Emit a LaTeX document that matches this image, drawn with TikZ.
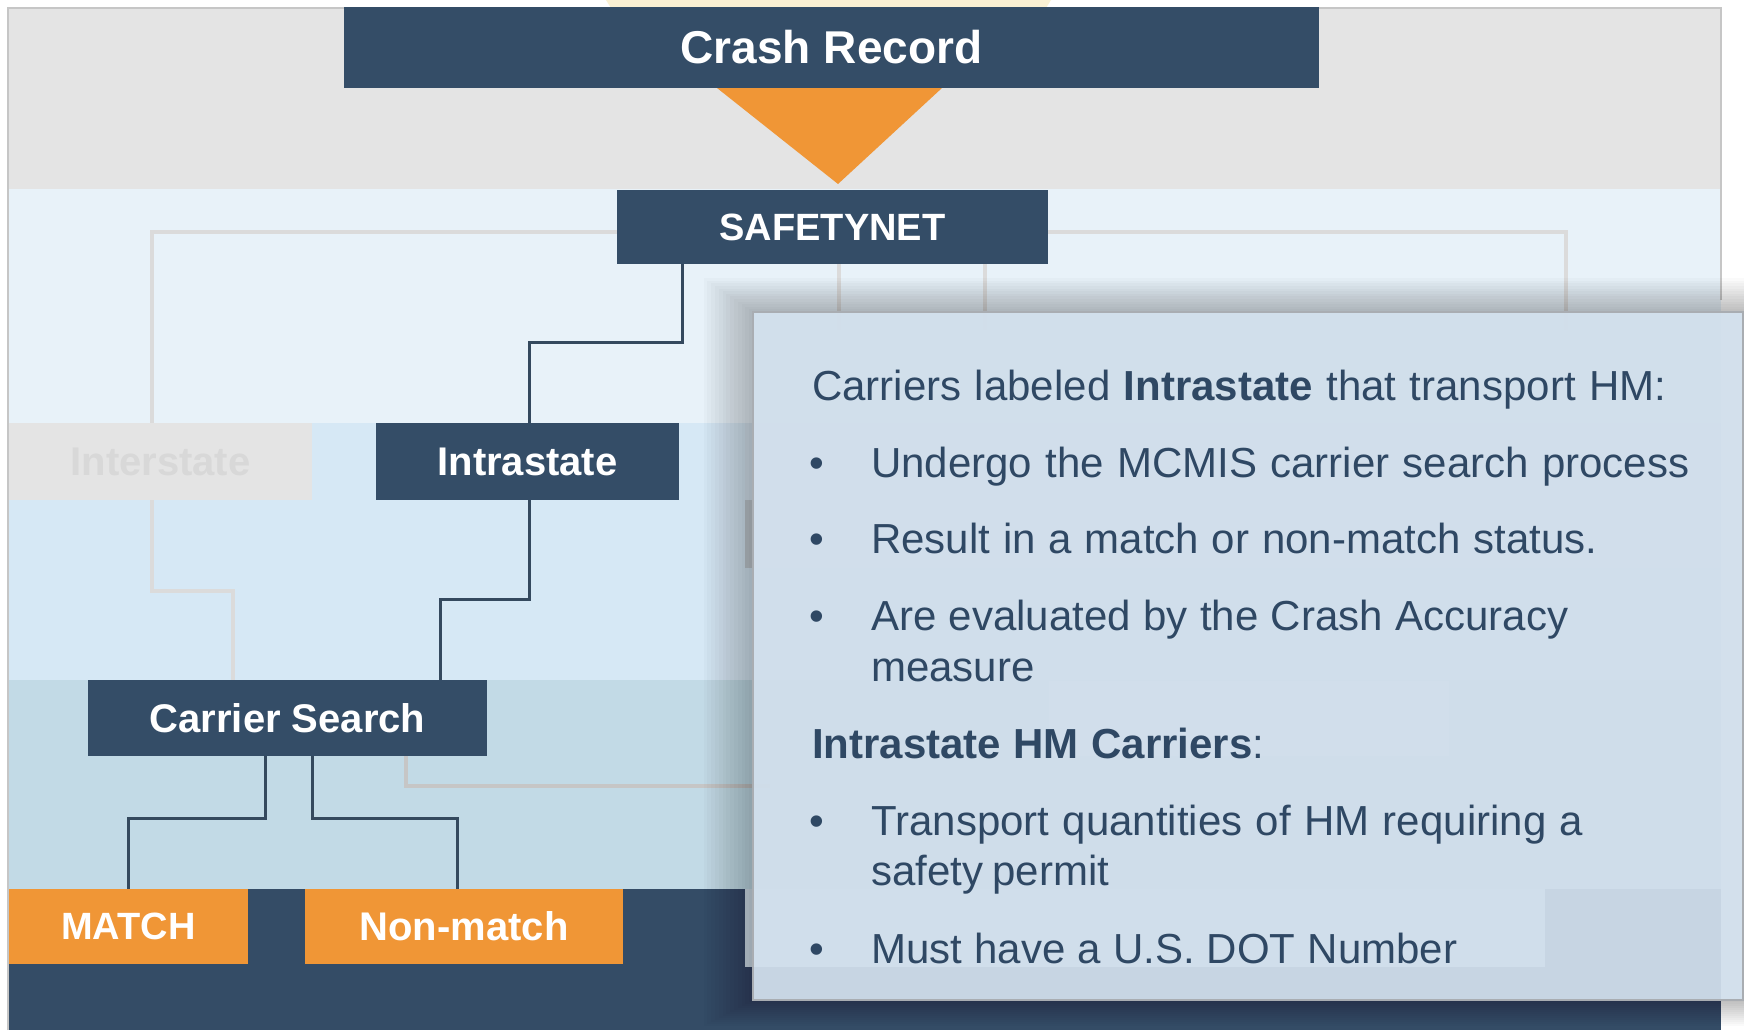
\documentclass[tikz,border=0pt]{standalone}
\usepackage{fontspec}
\setmainfont{Liberation Sans}
\definecolor{navy}{HTML}{344D67}
\definecolor{navyline}{HTML}{34495E}
\definecolor{orange1}{HTML}{F09636}
\definecolor{bandgray}{HTML}{E4E4E4}
\definecolor{bandA}{HTML}{E8F2F9}
\definecolor{bandB}{HTML}{D6E8F5}
\definecolor{bandC}{HTML}{C2DAE6}
\definecolor{bandD}{HTML}{344C66}
\definecolor{ghostgray}{HTML}{DBDBDB}
\definecolor{ghostdark}{HTML}{C6C6C6}
\definecolor{cream}{HTML}{FAF1D4}
\definecolor{panelfill}{HTML}{D5E3F0}
\definecolor{panelborder}{HTML}{A9ADB2}
\definecolor{ptextcol}{HTML}{2F4864}
\definecolor{intertext}{HTML}{D8D8D8}
\definecolor{hidA}{HTML}{D9E7F2}
\definecolor{hidB}{HTML}{C4CCD3}
\definecolor{hidC}{HTML}{D9E6F0}
\definecolor{hidD}{HTML}{D3E1EC}
\begin{document}
\begin{tikzpicture}[x=1pt,y=-1pt,
  box/.style={rectangle, inner sep=0pt, text=white, font=\bfseries\fontsize{40}{48}\selectfont},
  navybox/.style={box, fill=navy},
  orangebox/.style={box, fill=orange1},
  conn/.style={draw=navyline, line width=3pt},
  ghostline/.style={draw=ghostgray, line width=4pt},
  ghostlinedark/.style={draw=ghostdark, line width=4pt},
  panel/.style={rectangle, inner sep=0pt, fill=panelfill, fill opacity=0.92, draw=panelborder, draw opacity=1, line width=2pt},
  ptext/.style={inner sep=0pt, text=ptextcol, font=\fontsize{42}{50}\selectfont},
  bullet/.style={ptext, anchor=base}
]
\useasboundingbox (0,0) rectangle (1744,1030);
\fill[white] (0,0) rectangle (1744,1030);
% top cream hint
\fill[cream] (606,0) -- (1051,0) -- (1046,8) -- (611,8) -- cycle;
% bands
\fill[bandgray] (9,8) rectangle (1721,189);
\fill[bandA] (9,189) rectangle (1721,423);
\fill[bandB] (9,423) rectangle (1721,680);
\fill[bandC] (9,680) rectangle (1721,889);
\fill[bandD] (9,889) rectangle (1721,1030);
\draw[gray!45, line width=1.2pt] (8,1030) -- (8,8) -- (1721,8) -- (1721,300);
% hidden boxes under the panel
\fill[hidA] (745,423) rectangle (1720,568);
\fill[hidB] (745,500) rectangle (752,568);
\fill[hidC] (1049,681) rectangle (1449,756);
\fill[hidD] (745,889) rectangle (1545,967);

% nodes
\fill[orange1] (717,88) -- (942,88) -- (838,184) -- cycle;
\node[navybox, minimum width=975pt, minimum height=81pt, font=\bfseries\fontsize{46}{52}\selectfont] (crash) at (831.5,47.5) {Crash Record};
\node[navybox, minimum width=431pt, minimum height=74pt, font=\bfseries\fontsize{38}{46}\selectfont] (safety) at (832.5,227) {SAFETYNET};
\node[box, fill=bandgray, text=intertext, minimum width=303pt, minimum height=77pt] (inter) at (160.5,461.5) {Interstate};
\node[navybox, minimum width=303pt, minimum height=77pt] (intra) at (527.5,461.5) {Intrastate};
\node[navybox, minimum width=399pt, minimum height=76pt] (carrier) at (287.5,718) {Carrier Search};
\node[orangebox, minimum width=239pt, minimum height=75pt, font=\bfseries\fontsize{38}{46}\selectfont] (match) at (128.5,926.5) {MATCH};
\node[orangebox, minimum width=318pt, minimum height=75pt] (nonmatch) at (464,926.5) {Non-match};

% faint (inactive) connectors
\coordinate (g1) at (1566,330);
\coordinate (g2) at (770,786);
\draw[ghostline] ([yshift=-5pt]safety.west) -| ([xshift=-8.5pt]inter.north);
\draw[ghostline] ([yshift=-5pt]safety.east) -| (g1);
\draw[ghostline] ([xshift=6.5pt]safety.south) -- ++(0,66);
\draw[ghostline] ([xshift=152.5pt]safety.south) -- ++(0,66);
\draw[ghostline] ([xshift=-8.5pt]inter.south) -- ++(0,91) -| ([xshift=-54.5pt]carrier.north);
\draw[ghostlinedark] ([xshift=118.5pt]carrier.south) |- (g2);

% active connectors
\draw[conn] ([xshift=-150.5pt]safety.south) -- ++(0,78) -| ([xshift=1.5pt]intra.north);
\draw[conn] ([xshift=1.5pt]intra.south) -- ++(0,99) -| ([xshift=152.5pt]carrier.north);
\draw[conn] ([xshift=-22.5pt]carrier.south) -- ++(0,62) -| (match.north);
\draw[conn] ([xshift=24.5pt]carrier.south) -- ++(0,62) -| ([xshift=-7pt]nonmatch.north);

% panel shadow
\foreach \i in {1,...,13}{
  \fill[black, opacity=0.019] (753-3.8*\i,312-2.6*\i) rectangle (1743+1*\i,1000+2*\i);
}
\node[panel, minimum width=990pt, minimum height=688pt] (panel) at (1248,656) {};

% panel text
\node[ptext, anchor=base west] (l1) at (812,400) {\makebox[854pt][s]{Carriers labeled \textbf{Intrastate} that transport HM:}};
\node[bullet] (b1) at (817,477) {•};
\node[ptext, anchor=base west] (l2) at (871,477) {\makebox[818pt][s]{Undergo the MCMIS carrier search process}};
\node[bullet] (b2) at (817,553) {•};
\node[ptext, anchor=base west] (l3) at (871,553) {\makebox[726pt][s]{Result in a match or non-match status.}};
\node[bullet] (b3) at (817,630) {•};
\node[ptext, anchor=base west] (l4) at (871,630) {\makebox[697pt][s]{Are evaluated by the Crash Accuracy}};
\node[ptext, anchor=base west] (l5) at (871,681) {measure};
\node[ptext, anchor=base west] (l6) at (812,758) {\makebox[452pt][s]{\textbf{Intrastate HM Carriers}:}};
\node[bullet] (b4) at (817,835) {•};
\node[ptext, anchor=base west] (l7) at (871,835) {\makebox[712pt][s]{Transport quantities of HM requiring a}};
\node[ptext, anchor=base west] (l8) at (871,885) {\makebox[238pt][s]{safety permit}};
\node[bullet] (b5) at (817,963) {•};
\node[ptext, anchor=base west] (l9) at (871,963) {\makebox[586pt][s]{Must have a U.S. DOT Number}};
\end{tikzpicture}
\end{document}
